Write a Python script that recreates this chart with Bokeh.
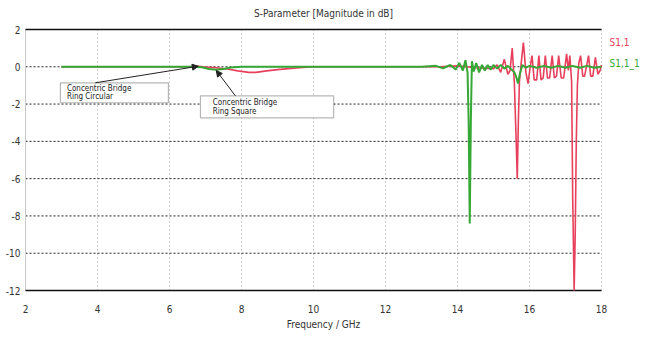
from bokeh.plotting import figure
from bokeh.models import (Range1d, BoxAnnotation, Arrow, NormalHead, Label,
                          FixedTicker, ColumnDataSource, Title)
from bokeh.core.properties import value
from bokeh.embed import file_html
from bokeh.resources import INLINE

# ---- data ----
freq_red = [3.0, 4.0, 5.0, 6.0, 6.5, 6.8, 7.0, 7.3, 7.6, 7.9, 8.2, 8.4, 8.7, 9.0, 9.3, 9.6,
            10.0, 11.0, 12.0, 13.0, 13.5, 14.0, 14.5, 15.0, 15.1, 15.2, 15.3, 15.4,
            15.46, 15.52, 15.58, 15.63, 15.66, 15.69, 15.72, 15.77, 15.83, 15.9, 15.96,
            16.02, 16.07, 16.13, 16.2, 16.26, 16.32, 16.38, 16.44, 16.5, 16.56, 16.63,
            16.69, 16.75, 16.81, 16.88, 16.95, 17.03, 17.08, 17.12, 17.17, 17.2, 17.24,
            17.27, 17.3, 17.33, 17.37, 17.42, 17.48, 17.53, 17.58, 17.64, 17.7, 17.76,
            17.83, 17.9, 17.96, 18.0]
s11_red = [0.0, 0.0, 0.0, 0.0, 0.0, 0.02, -0.02, -0.05, -0.12, -0.22, -0.30, -0.30, -0.22,
           -0.15, -0.10, -0.05, 0.0, 0.0, 0.0, 0.0, 0.0, 0.05, -0.05, -0.1, 0.1, -0.3, 0.4,
           -0.4, -0.2, 1.0, -0.9, -4.0, -6.0, -3.0, -0.8, 0.2, 1.3, -0.3, -0.9,
           0.0, 0.6, -0.7, -0.7, 0.6, -0.7, -0.6, 0.6, -0.6, -0.6, 0.6, -0.6, -0.5,
           0.6, -0.6, -0.6, 0.7, -0.2, 0.6, -0.8, -7.0, -12.0, -9.0, -4.0, -1.0, 0.2,
           0.6, -0.5, -0.5, 0.0, 0.6, -0.5, -0.5, 0.5, -0.4, -0.2, 0.1]

freq_green = [3.0, 4.0, 5.0, 6.0, 6.6, 6.9, 7.1, 7.3, 7.5, 7.7, 8.0, 9.0, 10.0, 11.0, 12.0,
              13.0, 13.4, 13.6, 13.8, 13.95, 14.05, 14.15, 14.22, 14.28, 14.31, 14.34,
              14.37, 14.4, 14.45, 14.52, 14.6, 14.68, 14.76, 14.84, 14.92, 15.0, 15.1,
              15.2, 15.3, 15.4, 15.5, 15.58, 15.64, 15.68, 15.73, 15.8, 15.9, 16.0, 16.2,
              16.4, 16.6, 16.8, 17.0, 17.2, 17.4, 17.6, 17.8, 18.0]
s11_green = [0.0, 0.0, 0.0, 0.0, 0.0, -0.02, -0.12, -0.16, -0.12, -0.04, 0.0, 0.0, 0.0,
             0.0, 0.0, 0.0, 0.05, -0.08, 0.1, -0.15, 0.2, -0.2, 0.35, -0.3, -3.0, -8.4,
             -3.0, 0.3, -0.25, 0.2, -0.3, 0.1, -0.2, 0.1, -0.15, 0.1, -0.1, 0.1, -0.1,
             0.05, -0.15, -0.3, -0.6, -0.9, -0.4, 0.1, -0.05, 0.05, -0.05, 0.05, -0.05,
             0.05, -0.05, 0.05, -0.05, 0.05, -0.05, 0.0]

x_ticks = [2, 4, 6, 8, 10, 12, 14, 16, 18]
y_ticks = [2, 0, -2, -4, -6, -8, -10, -12]
y_tick_labels = ["2", "0", "-2", "-4", "-6", "-8", "-10", "-12"]

title_text = "S-Parameter [Magnitude in dB]"
x_label = "Frequency / GHz"
series_names = ["S1,1", "S1,1_1"]
series_label_y = [1.3, 0.15]
note_circular = ["Concentric Bridge", "Ring Circular"]
note_square = ["Concentric Bridge", "Ring Square"]

RED = "#e8405c"
GREEN = "#35a835"
FONT = "'DejaVu Sans Condensed', 'DejaVu Sans', sans-serif"

W, H = 646, 339
X0, X1 = x_ticks[0], x_ticks[-1]
Y0, Y1 = y_ticks[-1], y_ticks[0]
# plot box: x = 2 at 25 px, x = 18 at 601 px, y = 2 at 29 px, y = -12 at 290 px
px_x = (601 - 25) / (X1 - X0)
px_y = (290 - 29) / (Y1 - Y0)
PAD = 8  # px of frame above/below the plot box so edge tick labels are not clipped
x_start = X0 - 25 / px_x
x_end = X1 + (W - 601) / px_x
y_start = Y0 - PAD / px_y
y_end = Y1 + PAD / px_y

p = figure(width=W, height=H, output_backend="svg", toolbar_location=None,
           x_range=Range1d(x_start, x_end), y_range=Range1d(y_start, y_end),
           min_border_left=0, min_border_right=0, min_border_top=29 - PAD,
           min_border_bottom=(H - 290) - PAD)
p.yaxis.visible = False
p.outline_line_color = None
p.background_fill_color = "white"

center_offset = (25 + 601) / 2 - W / 2
p.add_layout(Title(text=title_text, align="center", offset=center_offset,
                   text_font=FONT, text_font_size="10px", text_font_style="normal",
                   text_color="#333333", standoff=6), "above")

# x axis
p.xaxis.ticker = FixedTicker(ticks=x_ticks)
p.xaxis.major_tick_line_color = None
p.xaxis.minor_tick_line_color = None
p.xaxis.major_label_text_font = FONT
p.xaxis.major_label_text_font_size = "10px"
p.xaxis.major_label_text_color = "#333333"
p.xaxis.major_label_standoff = 0
p.xaxis.axis_line_color = None
p.add_layout(Title(text=x_label, align="center", offset=center_offset,
                   text_font=FONT, text_font_size="10px", text_font_style="normal",
                   text_color="#333333", standoff=2), "below")

# grid: vertical lines limited to plot box, horizontal as dotted segments
p.xgrid.visible = False
p.ygrid.visible = False
p.segment(x0=x_ticks[1:], x1=x_ticks[1:], y0=[Y0] * (len(x_ticks) - 1),
          y1=[Y1] * (len(x_ticks) - 1), line_color="#a0a0a0", line_dash="1 3",
          line_width=1)
inner_y = y_ticks[1:-1]
p.segment(x0=[X0] * len(inner_y), x1=[X1] * len(inner_y), y0=inner_y, y1=inner_y,
          line_color="#222222", line_dash="2 2", line_width=1)

# left axis line and top/bottom borders
p.segment(x0=[X0], x1=[X0], y0=[Y0], y1=[Y1], line_color="#c8c8c8", line_width=1)
p.segment(x0=[X0, X0], x1=[X1, X1], y0=[Y1, Y0], y1=[Y1, Y0],
          line_color="#111111", line_width=1.5)

# y tick labels
ytl = ColumnDataSource(dict(x=[X0] * len(y_ticks), y=y_ticks, t=y_tick_labels))
p.text(x="x", y="y", text="t", source=ytl, x_offset=-5, text_align="right",
       text_baseline="middle", text_font=value(FONT), text_font_size="10px",
       text_color="#333333")

# curves
red_src = ColumnDataSource(dict(x=freq_red, y=s11_red))
green_src = ColumnDataSource(dict(x=freq_green, y=s11_green))
p.line("x", "y", source=red_src, line_color=RED, line_width=1.6)
p.line("x", "y", source=green_src, line_color=GREEN, line_width=2)

# series labels to the right of the plot box
lab_src = ColumnDataSource(dict(x=[X1, X1], y=series_label_y, t=series_names,
                                c=[RED, GREEN]))
p.text(x="x", y="y", text="t", text_color="c", source=lab_src, x_offset=8,
       text_align="left", text_baseline="middle", text_font=value(FONT),
       text_font_size="10px")

# annotation boxes
p.add_layout(BoxAnnotation(left=2.97, right=5.97, top=-0.86, bottom=-1.93,
                           fill_color="white", fill_alpha=1, line_color="#111111",
                           line_width=1.2))
p.add_layout(BoxAnnotation(left=6.86, right=10.56, top=-1.56, bottom=-2.74,
                           fill_color="white", fill_alpha=1, line_color="#111111",
                           line_width=1.2))
p.add_layout(Label(x=3.15, y=-1.15, text=note_circular[0], text_font=FONT,
                   text_font_size="8px", text_color="#222222", text_baseline="middle"))
p.add_layout(Label(x=3.15, y=-1.62, text=note_circular[1], text_font=FONT,
                   text_font_size="8px", text_color="#222222", text_baseline="middle"))
p.add_layout(Label(x=7.2, y=-1.9, text=note_square[0], text_font=FONT,
                   text_font_size="8px", text_color="#222222", text_baseline="middle"))
p.add_layout(Label(x=7.2, y=-2.4, text=note_square[1], text_font=FONT,
                   text_font_size="8px", text_color="#222222", text_baseline="middle"))

p.add_layout(Arrow(x_start=3.94, y_start=-0.86, x_end=6.8, y_end=0.03,
                   line_color="#222222", line_width=1,
                   end=NormalHead(size=6, fill_color="#222222", line_color="#222222")))
p.add_layout(Arrow(x_start=7.83, y_start=-1.56, x_end=7.3, y_end=-0.2,
                   line_color="#222222", line_width=1,
                   end=NormalHead(size=6, fill_color="#222222", line_color="#222222")))

open("out.html", "w").write(file_html(p, INLINE))
